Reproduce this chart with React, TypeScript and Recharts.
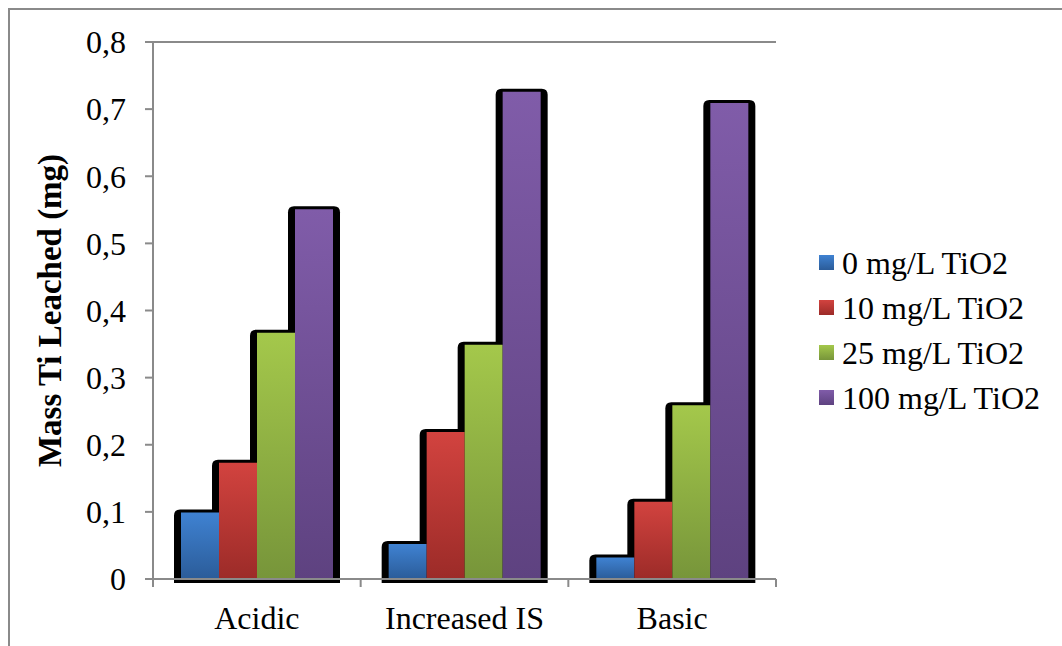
import React from 'react';
import { BarChart, Bar, XAxis, YAxis, CartesianGrid, Label } from 'recharts';

const categories = ['Acidic', 'Increased IS', 'Basic'];
const series0 = [0.099, 0.052, 0.032];
const series10 = [0.173, 0.219, 0.115];
const series25 = [0.367, 0.349, 0.259];
const series100 = [0.551, 0.726, 0.709];
const seriesNames = ['0 mg/L TiO2', '10 mg/L TiO2', '25 mg/L TiO2', '100 mg/L TiO2'];
const yTicks = [0, 0.1, 0.2, 0.3, 0.4, 0.5, 0.6, 0.7, 0.8];
const yLabel = 'Mass Ti Leached (mg)';

const seriesKeys = ['s0', 's10', 's25', 's100'];
const gradients = [
  ['#3f82d2', '#2b5c99'],
  ['#d2433f', '#9c2b28'],
  ['#a4c84b', '#77953a'],
  ['#805ca9', '#5e4280'],
];

const data = categories.map((c, i) => ({
  name: c,
  s0: series0[i],
  s10: series10[i],
  s25: series25[i],
  s100: series100[i],
}));

const W = 1062;
const H = 646;
const FONT = '"Liberation Serif", "Times New Roman", Times, serif';
const GRAY = '#8a8a8a';
const MARGIN = { top: 42, right: 286, left: 0, bottom: 0 };
const YAXIS_W = 153;
const XAXIS_H = 67;
const X_TICK_MARGIN = 27;
const TEXT_SIZE = 32;

const fmt = (v: number) => String(v).replace('.', ',');

const ShadowShape = (props: any) => {
  const { x, y, width, height } = props;
  if (width == null || height == null) return null;
  const r = 6;
  const l = x - 7;
  const t = y - 3;
  const w = width + 14;
  const b = y + height + 4;
  const d = `M${l},${b} L${l},${t + r} Q${l},${t} ${l + r},${t} L${l + w - r},${t} Q${l + w},${t} ${l + w},${t + r} L${l + w},${b} Z`;
  return <path d={d} fill="#000" />;
};

const XTick = (props: any) => {
  const { x, y, payload, index, visibleTicksCount } = props;
  const half = payload && payload.offset ? payload.offset : (W - MARGIN.right - YAXIS_W) / categories.length / 2;
  const axisY = y - X_TICK_MARGIN;
  const last = index === (visibleTicksCount ?? categories.length) - 1;
  return (
    <g>
      <line x1={x - half} x2={x - half} y1={axisY} y2={axisY + 8} stroke={GRAY} strokeWidth={2} />
      {last && <line x1={x + half} x2={x + half} y1={axisY} y2={axisY + 8} stroke={GRAY} strokeWidth={2} />}
      <text x={x} y={y} dy="0.71em" textAnchor="middle" fill="#000" fontSize={TEXT_SIZE} fontFamily={FONT}>
        {payload.value}
      </text>
    </g>
  );
};

const YTick = (props: any) => {
  const { x, y, payload } = props;
  return (
    <text x={x} y={y} dy="0.355em" textAnchor="end" fill="#000" fontSize={TEXT_SIZE} fontFamily={FONT}>
      {fmt(payload.value)}
    </text>
  );
};

const YLabelContent = (props: any) => {
  const vb = props.viewBox || { x: 0, y: 42, width: YAXIS_W, height: 537 };
  const cx = vb.x + 50;
  const cy = vb.y + vb.height / 2;
  return (
    <text
      x={cx}
      y={cy}
      transform={`rotate(-90, ${cx}, ${cy})`}
      textAnchor="middle"
      dominantBaseline="central"
      fontSize={33}
      fontWeight="bold"
      fontFamily={FONT}
      fill="#000"
    >
      {yLabel}
    </text>
  );
};

const LegendBox = () => (
  <div
    style={{
      position: 'absolute',
      left: 819,
      top: 240,
      fontFamily: FONT,
      fontSize: TEXT_SIZE,
      color: '#000',
      lineHeight: 1,
    }}
  >
    {seriesNames.map((n, i) => (
      <div key={n} style={{ display: 'flex', alignItems: 'center', height: 45 }}>
        <div
          style={{
            width: 15,
            height: 15,
            marginRight: 8,
            flex: 'none',
            background: `linear-gradient(${gradients[i][0]}, ${gradients[i][1]})`,
          }}
        />
        <span style={{ whiteSpace: 'nowrap' }}>{n}</span>
      </div>
    ))}
  </div>
);

export default function App() {
  return (
    <div style={{ position: 'absolute', left: 0, top: 0, width: W, height: H, background: '#fff' }}>
      <div
        style={{
          position: 'absolute',
          left: 8,
          top: 8,
          width: W - 8,
          height: H - 8,
          borderTop: `2px solid ${GRAY}`,
          borderLeft: `2px solid ${GRAY}`,
          boxSizing: 'border-box',
        }}
      />
      {/* bottom layer: grid and bar shadows */}
      <div style={{ position: 'absolute', left: 0, top: 0 }}>
        <BarChart width={W} height={H} data={data} margin={MARGIN} barCategoryGap={28} barGap={0}>
          <CartesianGrid vertical={false} stroke={GRAY} strokeWidth={2} />
          <XAxis dataKey="name" height={XAXIS_H} axisLine={false} tickLine={false} tick={false} />
          <YAxis
            width={YAXIS_W}
            domain={[0, 0.8]}
            ticks={yTicks}
            axisLine={false}
            tickLine={false}
            tick={false}
          />
          {seriesKeys.map((k) => (
            <Bar key={k} dataKey={k} fill="#000" shape={<ShadowShape />} isAnimationActive={false} />
          ))}
        </BarChart>
      </div>
      {/* top layer: colored bars, axes, labels */}
      <div style={{ position: 'absolute', left: 0, top: 0 }}>
        <BarChart width={W} height={H} data={data} margin={MARGIN} barCategoryGap={28} barGap={0}>
          <defs>
            {gradients.map((g, i) => (
              <linearGradient key={i} id={`grad${i}`} x1="0" y1="0" x2="0" y2="1">
                <stop offset="0%" stopColor={g[0]} />
                <stop offset="100%" stopColor={g[1]} />
              </linearGradient>
            ))}
          </defs>
          {seriesKeys.map((k, i) => (
            <Bar key={k} dataKey={k} name={seriesNames[i]} fill={`url(#grad${i})`} isAnimationActive={false} />
          ))}
          <XAxis
            dataKey="name"
            height={XAXIS_H}
            axisLine={{ stroke: GRAY, strokeWidth: 2 }}
            tickLine={false}
            tickSize={0}
            tickMargin={X_TICK_MARGIN}
            tick={<XTick />}
            interval={0}
          />
          <YAxis
            width={YAXIS_W}
            domain={[0, 0.8]}
            ticks={yTicks}
            interval={0}
            axisLine={{ stroke: GRAY, strokeWidth: 2 }}
            tickLine={{ stroke: GRAY, strokeWidth: 2 }}
            tickSize={8}
            tickMargin={19}
            tick={<YTick />}
          >
            <Label content={<YLabelContent />} />
          </YAxis>
        </BarChart>
      </div>
      <LegendBox />
    </div>
  );
}
